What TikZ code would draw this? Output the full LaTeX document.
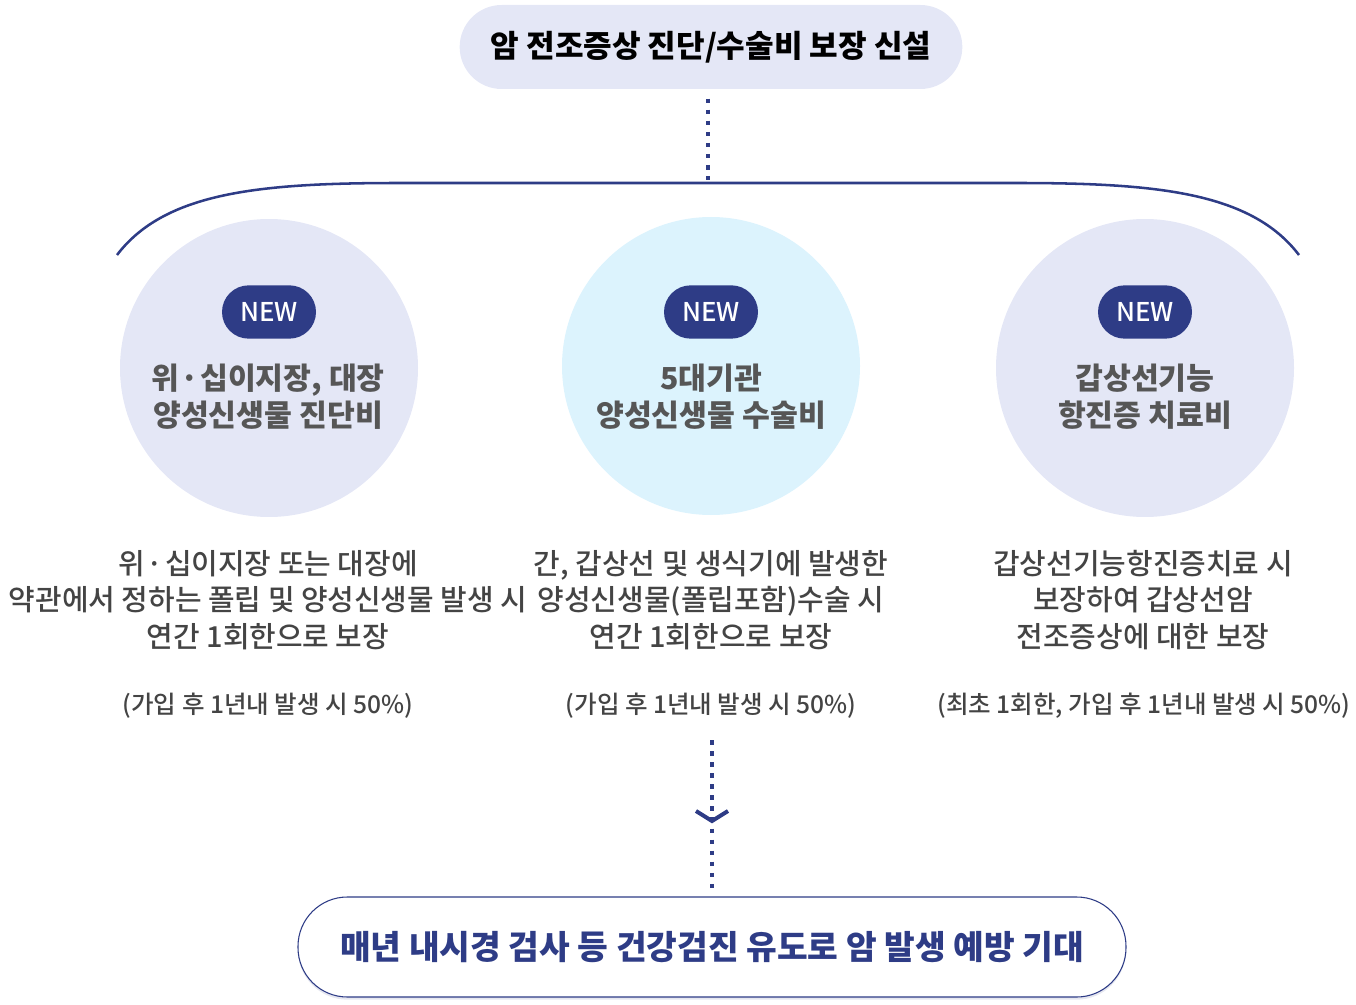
\documentclass[tikz,border=0pt]{standalone}
\usepackage{fontspec}
\setmainfont{Noto Sans CJK KR}
\newfontfamily\medfont{Noto Sans CJK KR Medium}
\usetikzlibrary{arrows.meta,positioning,shadows}
\definecolor{navy}{HTML}{2E3C86}
\definecolor{lavender}{HTML}{E4E7F6}
\definecolor{skyblue}{HTML}{DCF3FD}
\definecolor{headgray}{HTML}{565656}
\definecolor{bodygray}{HTML}{444444}
\newcommand\middot{\makebox[0.7em]{·}}

\tikzset{
  titlepill/.style={rounded corners=31.5pt,fill=lavender,minimum width=377pt,
    minimum height=63pt,font=\fontsize{23.3}{28}\selectfont\bfseries},
  bubble/.style={circle,fill=lavender,minimum size=223.5pt,inner sep=0pt},
  newbadge/.style={rounded corners=20pt,fill=navy,text=white,minimum width=70.5pt,
    minimum height=40pt,inner sep=0pt,font=\fontsize{19.4}{22}\medfont},
  bubbletitle/.style={align=center,text=headgray,
    font=\fontsize{22.7}{27.8}\selectfont\bfseries},
  desc/.style={align=center,text=bodygray,font=\fontsize{21.7}{27.4}\medfont},
  note/.style={text=bodygray,font=\fontsize{18.4}{20}\medfont},
  goalpill/.style={rounded corners=37pt,draw=navy,line width=0.8pt,fill=white,
    minimum width=621pt,minimum height=75pt,text=navy,
    font=\fontsize{25}{29}\selectfont\bfseries,
    drop shadow={shadow xshift=0pt,shadow yshift=-2pt,fill=navy,opacity=.12}},
  dotline/.style={navy,line width=3.4pt,dash pattern=on 3.4pt off 4.9pt},
}

\begin{document}
\begin{tikzpicture}[x=0.75pt,y=-0.75pt]
  \useasboundingbox (0,0) rectangle (1356,1005);

  % top heading and bracket
  \node[titlepill] (title) at (711,47) {암 전조증상 진단/수술비 보장 신설};
  \coordinate (brace) at (708,180);
  \draw[dotline] ([yshift=-7pt]title.south -| brace) -- (brace);
  \draw[navy,line width=1.9pt] (117,255) .. controls (165,192) and (260,183) .. (400,183)
    -- (1016,183) .. controls (1156,183) and (1251,192) .. (1299,255);

  % three bubbles
  \node[bubble] (c1) at (269,368) {};
  \node[bubble,fill=skyblue] (c2) at (711,366) {};
  \node[bubble] (c3) at (1145,368) {};
  \foreach \i/\x in {1/269,2/711,3/1145}
    \node[newbadge] (n\i) at (\x,312) {NEW};

  \node[bubbletitle] (t1) at (268,397) {위\middot 십이지장, 대장\\양성신생물 진단비};
  \node[bubbletitle] (t2) at (711,397) {5대기관\\양성신생물 수술비};
  \node[bubbletitle] (t3) at (1145,397) {갑상선기능\\항진증 치료비};

  % descriptions
  \node[desc] (d1) at (268,600) {위\middot 십이지장 또는 대장에\\약관에서 정하는 폴립 및 양성신생물 발생 시\\연간 1회한으로 보장};
  \node[desc] (d2) at (711,600) {간, 갑상선 및 생식기에 발생한\\양성신생물(폴립포함)수술 시\\연간 1회한으로 보장};
  \node[desc] (d3) at (1143,600) {갑상선기능항진증치료 시\\보장하여 갑상선암\\전조증상에 대한 보장};

  \node[note] (m1) at (268,706) {(가입 후 1년내 발생 시 50\%)};
  \node[note] (m2) at (711,706) {(가입 후 1년내 발생 시 50\%)};
  \node[note] (m3) at (1144,706) {(최초 1회한, 가입 후 1년내 발생 시 50\%)};

  % outcome
  \node[goalpill] (goal) at (712,947) {매년 내시경 검사 등 건강검진 유도로 암 발생 예방 기대};
  \coordinate (flow) at (712,740);
  \draw[dotline] (flow) -- ([yshift=5pt]goal.north -| flow);
  \coordinate (tip) at (712,821);
  \draw[navy,line width=3pt] (tip) ++(-16,-10) -- (tip) -- ++(16,-10);
\end{tikzpicture}
\end{document}
